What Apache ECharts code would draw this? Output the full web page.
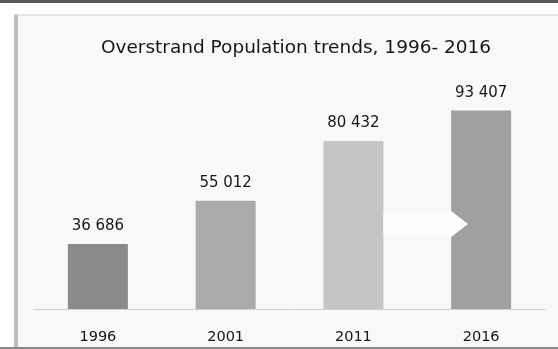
<!DOCTYPE html>
<html>
<head>
<meta charset="utf-8">
<script src="https://cdn.jsdelivr.net/npm/echarts@6/dist/echarts.min.js"></script>
<style>
  html, body { margin: 0; padding: 0; background: #ffffff; }
  #chart { width: 558px; height: 349px; }
</style>
</head>
<body>
<div id="chart"></div>
<script>
// Census years and Overstrand population counts
var years = ['1996', '2001', '2011', '2016'];
var population = [36686, 55012, 80432, 93407];
var barShades = ['#8a8a8a', '#aaaaaa', '#c5c5c5', '#a0a0a0'];

var titleText = 'Overstrand Population trends, 1996- 2016';
var fontFamily = '"DejaVu Sans", sans-serif';

function formatThousands(v) {
  return String(v).replace(/\B(?=(\d{3})+(?!\d))/g, ' ');
}

var chart = echarts.init(document.getElementById('chart'), null, { renderer: 'canvas' });

var option = {
  backgroundColor: '#f8f8f8',
  animation: false,
  title: {
    text: titleText,
    left: 291,
    top: 34,
    textAlign: 'center',
    textStyle: { fontFamily: fontFamily, fontSize: 18.5, fontWeight: 'normal', color: '#161616' }
  },
  grid: { left: 34, right: 13, top: 95, bottom: 40 },
  xAxis: {
    type: 'category',
    data: years,
    axisLine: { show: true, lineStyle: { color: '#cfcfcf', width: 1 } },
    axisTick: { show: false },
    axisLabel: { fontFamily: fontFamily, fontSize: 14.5, color: '#161616', margin: 21 }
  },
  yAxis: {
    type: 'value',
    min: 9000,
    max: 100000,
    show: false,
    splitLine: { show: false }
  },
  series: [{
    type: 'bar',
    barWidth: 60,
    data: population.map(function (v, i) {
      return { value: v, itemStyle: { color: barShades[i] } };
    }),
    label: {
      show: true,
      position: 'top',
      distance: 10,
      fontFamily: fontFamily,
      fontSize: 15,
      color: '#161616',
      formatter: function (p) { return formatThousands(p.value); }
    }
  }]
};

chart.setOption(option);

// Growth arrow from the 2011 bar into the 2016 bar, plus the page frame
var p3 = chart.convertToPixel({ seriesIndex: 0 }, [2, 0]);
var p4 = chart.convertToPixel({ seriesIndex: 0 }, [3, 0]);
var x0 = p3[0] + 30;
var xNotch = p4[0] - 30;
var xTip = xNotch + 17;
var yMid = 224, half = 13;

chart.setOption({
  graphic: [
    { type: 'rect', shape: { x: 0, y: 0, width: 558, height: 3 }, style: { fill: '#5a5a5a' }, z: 10 },
    { type: 'rect', shape: { x: 0, y: 3, width: 558, height: 12 }, style: { fill: '#ffffff' }, z: 10 },
    { type: 'rect', shape: { x: 0, y: 3, width: 14, height: 346 }, style: { fill: '#ffffff' }, z: 10 },
    { type: 'rect', shape: { x: 14, y: 14, width: 544, height: 2 }, style: { fill: '#e2e2e2' }, z: 10 },
    { type: 'rect', shape: { x: 14, y: 15, width: 4, height: 334 }, style: { fill: '#bdbdbd' }, z: 10 },
    { type: 'rect', shape: { x: 0, y: 347, width: 558, height: 2 }, style: { fill: '#8a8a8a' }, z: 10 },
    {
      type: 'polygon',
      shape: { points: [[x0, yMid - half], [xNotch, yMid - half], [xTip, yMid], [xNotch, yMid + half], [x0, yMid + half]] },
      style: { fill: '#fbfbfb' },
      z: 10
    }
  ]
});
</script>
</body>
</html>
